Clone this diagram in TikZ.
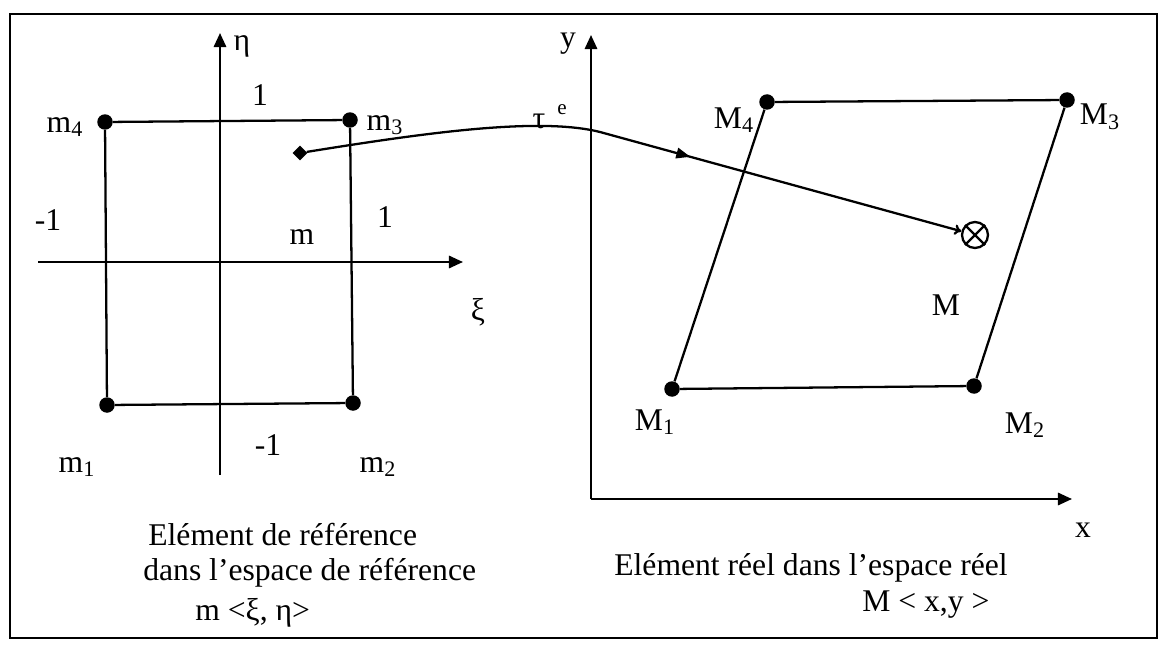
\documentclass[tikz,border=0pt]{standalone}
\usepackage{fontspec}
\setmainfont{Liberation Serif}
\usetikzlibrary{arrows.meta,shapes.geometric,decorations.markings}

\begin{document}
\begin{tikzpicture}[x=0.02cm,y=-0.02cm,
  every node/.style={font=\fontsize{18}{21}\selectfont},
  ln/.style={draw=black,line width=1.3pt},
  axis/.style={ln,-{Triangle[length=8pt,width=7pt]}},
  dot/.style={circle,fill=black,inner sep=0pt,minimum size=0.31cm},
  lbl/.style={inner sep=0pt},
  txt/.style={inner sep=0pt,anchor=west},
  midarrow/.style={postaction={decorate},decoration={markings,
    mark=at position 0.25 with {\arrow{Triangle[length=8pt,width=6pt]}}}}]
  \useasboundingbox (0,0) rectangle (1165,645);
  \draw[line width=1.3pt] (10,14) rectangle (1157,638);

  \coordinate (xiA) at (38,262);
  \coordinate (xiB) at (463,262);
  \coordinate (etaA) at (220,475);
  \coordinate (etaB) at (220,33);
  \draw[axis] (xiA) -- (xiB);
  \draw[axis] (etaA) -- (etaB);
  \node[dot] (m1) at (107,405) {};
  \node[dot] (m2) at (353,403) {};
  \node[dot] (m3) at (350,120) {};
  \node[dot] (m4) at (105,122) {};
  \draw[ln] (m1) -- (m2) -- (m3) -- (m4) -- (m1);
  \node[lbl] (eta) at (242,46) {η};
  \node[lbl] (xi) at (478,312) {ξ};
  \node[lbl] (one1) at (260,95) {1};
  \node[lbl] (one2) at (385,217) {1};
  \node[lbl] (mone1) at (48,220) {-1};
  \node[lbl] (mone2) at (268,445) {-1};
  \node[lbl] (m) at (302,237) {m};
  \node[lbl] (m1l) at (77,467) {m\textsubscript{1}};
  \node[lbl] (m2l) at (378,467) {m\textsubscript{2}};
  \node[lbl] (m3l) at (385,125) {m\textsubscript{3}};
  \node[lbl] (m4l) at (65,127) {m\textsubscript{4}};
  \node[txt] (ref1) at (148,535) {Elément de référence};
  \node[txt] (ref2) at (143,573) {dans l’espace de référence};
  \node[txt] (ref3) at (195,613) {m <ξ, η>};

  \coordinate (O) at (591,499);
  \coordinate (xE) at (1072,499);
  \coordinate (yE) at (591,35);
  \draw[axis] (O) -- (xE);
  \draw[axis] (O) -- (yE);
  \node[dot] (M1) at (672,389) {};
  \node[dot] (M2) at (974,386) {};
  \node[dot] (M3) at (1067,100) {};
  \node[dot] (M4) at (767,102) {};
  \draw[ln] (M1) -- (M2) -- (M3) -- (M4) -- (M1);
  \node[lbl] (y) at (568,44) {y};
  \node[lbl] (x) at (1083,530) {x};
  \node[lbl] (M1l) at (655,422) {M\textsubscript{1}};
  \node[lbl] (M2l) at (1025,425) {M\textsubscript{2}};
  \node[lbl] (M3l) at (1100,117) {M\textsubscript{3}};
  \node[lbl] (M4l) at (734,120) {M\textsubscript{4}};
  \node[lbl] (M) at (946,305) {M};
  \node[txt] (real1) at (614,568) {Elément réel dans l’espace réel};
  \node[txt] (real2) at (862,605) {M < x,y >};

  \node[diamond,fill=black,inner sep=0pt,minimum size=0.3cm] (p) at (300,153) {};
  \node[circle,draw,line width=1.3pt,inner sep=0pt,minimum size=0.52cm] (P) at (975,235) {};
  \draw[ln] (P.north west) -- (P.south east) (P.north east) -- (P.south west);
  \coordinate (bend) at (600,132);
  \draw[ln] (p) .. controls (430,132) and (540,117) .. (bend);
  \draw[ln,midarrow,-{To[length=4pt,width=6pt]}] (bend) -- (P);
  \node[lbl] (tau) at (539,121) {τ};
  \node[lbl,font=\fontsize{12}{14}\selectfont] (tauE) at (562,110) {e};
\end{tikzpicture}
\end{document}
